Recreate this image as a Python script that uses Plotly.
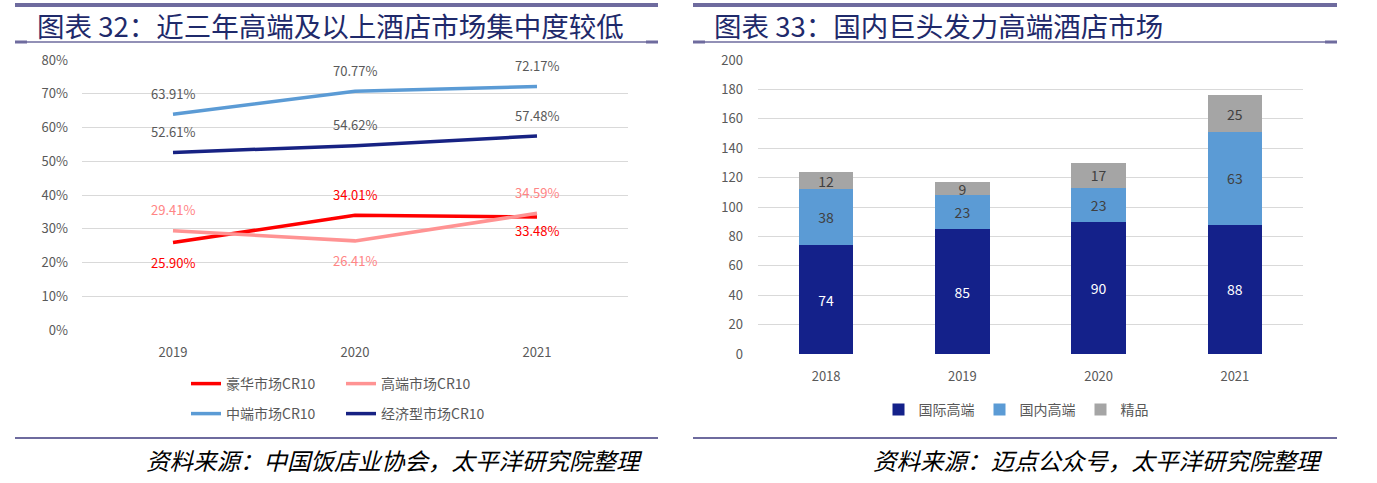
import plotly.graph_objects as go

# ---------------- data ----------------
years_left = ["2019", "2020", "2021"]
luxury_cr10 = [0.2590, 0.3401, 0.3348]
upscale_cr10 = [0.2941, 0.2641, 0.3459]
midscale_cr10 = [0.6391, 0.7077, 0.7217]
economy_cr10 = [0.5261, 0.5462, 0.5748]

years_right = ["2018", "2019", "2020", "2021"]
intl_high = [74, 85, 90, 88]
dom_high = [38, 23, 23, 63]
boutique = [12, 9, 17, 25]

W, H = 1377, 483
FONT = "Noto Sans CJK SC"
TICK = "#595959"

def px(x):
    return x / W

def py(y):
    return (H - y) / H

fig = go.Figure()

# ---------------- left line chart ----------------
line_series = [
    ("豪华市场CR10", luxury_cr10, "#FF0000", "legend", "#FF0000", [1, -1, 1]),
    ("高端市场CR10", upscale_cr10, "#FF9393", "legend", "#FF8585", [-1, 1, -1]),
    ("中端市场CR10", midscale_cr10, "#5B9BD5", "legend3", TICK, [-1, -1, -1]),
    ("经济型市场CR10", economy_cr10, "#172283", "legend3", TICK, [-1, -1, -1]),
]
annotations = []
for name, vals, color, lg, lcolor, side in line_series:
    fig.add_trace(go.Scatter(
        x=years_left, y=vals, mode="lines", name=name,
        line=dict(color=color, width=3.5), xaxis="x", yaxis="y",
        legend=lg, hoverinfo="skip",
    ))
    for i, yv in enumerate(vals):
        shift = -20 if side[i] > 0 else 21
        if name == "豪华市场CR10" and i == 2:
            shift = -13
        annotations.append(dict(
            x=i, y=yv, xref="x", yref="y", text=f"{yv*100:.2f}%",
            showarrow=False, yshift=shift,
            font=dict(family=FONT, size=13, color=lcolor),
        ))

# ---------------- right stacked bars ----------------
bar_series = [
    ("国际高端", intl_high, "#14218A", "white"),
    ("国内高端", dom_high, "#5B9BD5", "#404040"),
    ("精品", boutique, "#A5A5A5", "#404040"),
]
for name, vals, color, tcolor in bar_series:
    fig.add_trace(go.Bar(
        x=years_right, y=vals, name=name, marker=dict(color=color, line=dict(width=0)),
        text=[str(v) for v in vals], textposition="inside", insidetextanchor="middle",
        textangle=0, constraintext="none",
        textfont=dict(family=FONT, size=14, color=tcolor),
        xaxis="x2", yaxis="y2", legend="legend2", hoverinfo="skip",
    ))

# ---------------- layout ----------------
grid = "#D9D9D9"
axis_font = dict(family=FONT, size=13, color=TICK)
leg_font = dict(family=FONT, size=14, color=TICK)
fig.update_layout(
    width=W, height=H, margin=dict(l=0, r=0, t=0, b=0, autoexpand=False),
    paper_bgcolor="white", plot_bgcolor="white",
    barmode="stack", bargap=0.6,
    showlegend=True,
    font=dict(family=FONT, color=TICK),
    xaxis=dict(type="category", domain=[px(82), px(628)], anchor="y", showgrid=False,
               range=[-0.5, 2.5], showline=False, ticks="", tickfont=axis_font,
               automargin=False, ticklabelstandoff=13),
    yaxis=dict(domain=[py(330), py(60)], anchor="x", range=[0, 0.8], dtick=0.1,
               tickformat=".0%", gridcolor=grid, gridwidth=1.3, zeroline=False,
               showline=False, tickfont=axis_font, ticklabelstandoff=13, automargin=False),
    xaxis2=dict(type="category", domain=[px(758), px(1303)], anchor="y2", showgrid=False,
                range=[-0.5, 3.5], showline=False, ticks="", tickfont=axis_font,
                automargin=False, ticklabelstandoff=13),
    yaxis2=dict(domain=[py(354), py(60)], anchor="x2", range=[0, 200], dtick=20,
                gridcolor=grid, gridwidth=1.3, zeroline=False, showline=False,
                tickfont=axis_font, ticklabelstandoff=14, automargin=False),
    legend=dict(orientation="h", x=px(186), y=py(368), xanchor="left", yanchor="top",
                font=leg_font, entrywidth=110, bgcolor="rgba(0,0,0,0)", traceorder="normal"),
    legend3=dict(orientation="h", x=px(186), y=py(398), xanchor="left", yanchor="top",
                 font=leg_font, entrywidth=110, bgcolor="rgba(0,0,0,0)", traceorder="normal"),
    legend2=dict(orientation="h", x=px(1016), y=py(394), xanchor="center", yanchor="top",
                 font=leg_font, bgcolor="rgba(0,0,0,0)", traceorder="normal", itemwidth=30),
)

# header / footer decorations
hdr = "#6E6B9E"
shapes = []
for x0, x1 in [(15, 658), (693, 1337)]:
    shapes.append(dict(type="line", xref="paper", yref="paper", x0=px(x0), x1=px(x1),
                       y0=py(5), y1=py(5), line=dict(color=hdr, width=4)))
    shapes.append(dict(type="line", xref="paper", yref="paper", x0=px(x0), x1=px(x1),
                       y0=py(42), y1=py(42), line=dict(color=hdr, width=1.5)))
    shapes.append(dict(type="line", xref="paper", yref="paper", x0=px(x0), x1=px(x0 + 12),
                       y0=py(42), y1=py(42), line=dict(color=hdr, width=3)))
    shapes.append(dict(type="line", xref="paper", yref="paper", x0=px(x1 - 12), x1=px(x1),
                       y0=py(42), y1=py(42), line=dict(color=hdr, width=3)))
    shapes.append(dict(type="line", xref="paper", yref="paper", x0=px(x0), x1=px(x1),
                       y0=py(438), y1=py(438), line=dict(color=hdr, width=2)))
fig.update_layout(shapes=shapes)

title_font = dict(family=FONT, size=27.5, color="#1F2A6B")
src_font = dict(family=FONT, size=23.5, color="#000000", style="italic")
annotations += [
    dict(x=px(35), y=py(25), xref="paper", yref="paper", xanchor="left", yanchor="middle",
         text="图表 32：近三年高端及以上酒店市场集中度较低", showarrow=False, font=title_font),
    dict(x=px(712), y=py(25), xref="paper", yref="paper", xanchor="left", yanchor="middle",
         text="图表 33：国内巨头发力高端酒店市场", showarrow=False, font=title_font),
    dict(x=px(645), y=py(460), xref="paper", yref="paper", xanchor="right", yanchor="middle",
         text="资料来源：中国饭店业协会，太平洋研究院整理", showarrow=False, font=src_font),
    dict(x=px(1325), y=py(460), xref="paper", yref="paper", xanchor="right", yanchor="middle",
         text="资料来源：迈点公众号，太平洋研究院整理", showarrow=False, font=src_font),
]
fig.update_layout(annotations=annotations)

fig.write_html("out.html", config={"displayModeBar": False},
               post_script="document.body.style.margin='0';")
